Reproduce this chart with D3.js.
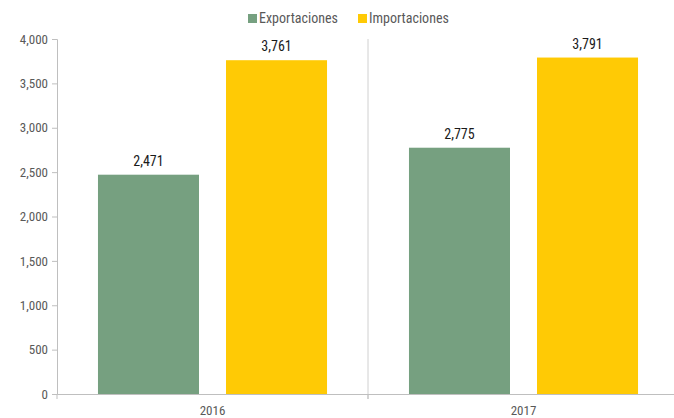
<!DOCTYPE html>
<html><head><meta charset="utf-8">
<script src="https://cdn.jsdelivr.net/npm/d3@7"></script>
<style>
body{margin:0;background:#fff;}
text{font-family:"Liberation Sans Narrow","Roboto Condensed","Roboto",sans-serif;}
</style></head>
<body><svg id="c" width="674" height="418"></svg>
<script>
const years = ["2016","2017"];
const seriesNames = ["Exportaciones","Importaciones"];
const exportaciones = [2471, 2775];
const importaciones = [3761, 3791];
const yTicks = [0,500,1000,1500,2000,2500,3000,3500,4000];
const colors = ["#76a080","#ffca05"];

const svg = d3.select("#c");
const x0 = d3.scaleBand().domain(years).range([57,679]).paddingInner(0).paddingOuter(0);
const x1 = d3.scaleBand().domain(seriesNames).range([0,x0.bandwidth()]).paddingInner(0.211).paddingOuter(0.32);
const y = d3.scaleLinear().domain([0,4000]).range([394,39]);
const fmt = d3.format(",");

svg.append("line").attr("x1",x0("2017")).attr("x2",x0("2017")).attr("y1",39).attr("y2",399)
  .attr("stroke","#d0d0d0").attr("stroke-width",1);

const data = years.map((yr,i)=>({year:yr, vals:[exportaciones[i],importaciones[i]]}));
const g = svg.selectAll("g.grp").data(data).enter().append("g").attr("transform",d=>`translate(${x0(d.year)},0)`);
g.selectAll("rect").data(d=>d.vals.map((v,j)=>({name:seriesNames[j],v,j}))).enter().append("rect")
  .attr("x",d=>x1(d.name)).attr("width",x1.bandwidth())
  .attr("y",d=>y(d.v)).attr("height",d=>y(0)-y(d.v)).attr("fill",d=>colors[d.j]);
g.selectAll("text.val").data(d=>d.vals.map((v,j)=>({name:seriesNames[j],v,j}))).enter().append("text")
  .attr("x",d=>x1(d.name)+x1.bandwidth()/2).attr("y",d=>y(d.v)-9)
  .attr("text-anchor","middle").attr("font-size",14).attr("fill","#1a1a1a").text(d=>fmt(d.v));

const ya = svg.append("g").attr("transform","translate(57,0)").call(d3.axisLeft(y).tickValues(yTicks).tickFormat(fmt).tickSize(5).tickPadding(4));
ya.select(".domain").attr("stroke","#bfbfbf");
ya.selectAll(".tick line").attr("stroke","#bfbfbf");
ya.selectAll(".tick text").attr("font-size",13).attr("fill","#595959").style("font-family",'"Liberation Sans Narrow","Roboto Condensed",sans-serif');

const xa = svg.append("g").attr("transform","translate(0,394)").call(d3.axisBottom(x0).tickSize(0).tickPadding(12));
xa.select(".domain").attr("stroke","#bfbfbf");
xa.selectAll(".tick text").attr("font-size",13).attr("fill","#595959").style("font-family",'"Liberation Sans Narrow","Roboto Condensed",sans-serif');
svg.selectAll("line.bt").data(years).enter().append("line").attr("class","bt")
  .attr("x1",d=>x0(d)).attr("x2",d=>x0(d)).attr("y1",394).attr("y2",399).attr("stroke","#bfbfbf");

const legX = [248, 358];
const leg = svg.selectAll("g.leg").data(seriesNames).enter().append("g").attr("transform",(d,i)=>`translate(${legX[i]},0)`);
leg.append("rect").attr("x",0).attr("y",14).attr("width",9).attr("height",9).attr("fill",(d,i)=>colors[i]);
leg.append("text").attr("x",11).attr("y",23).attr("font-size",14).attr("fill","#595959").text(d=>d);
</script></body></html>
